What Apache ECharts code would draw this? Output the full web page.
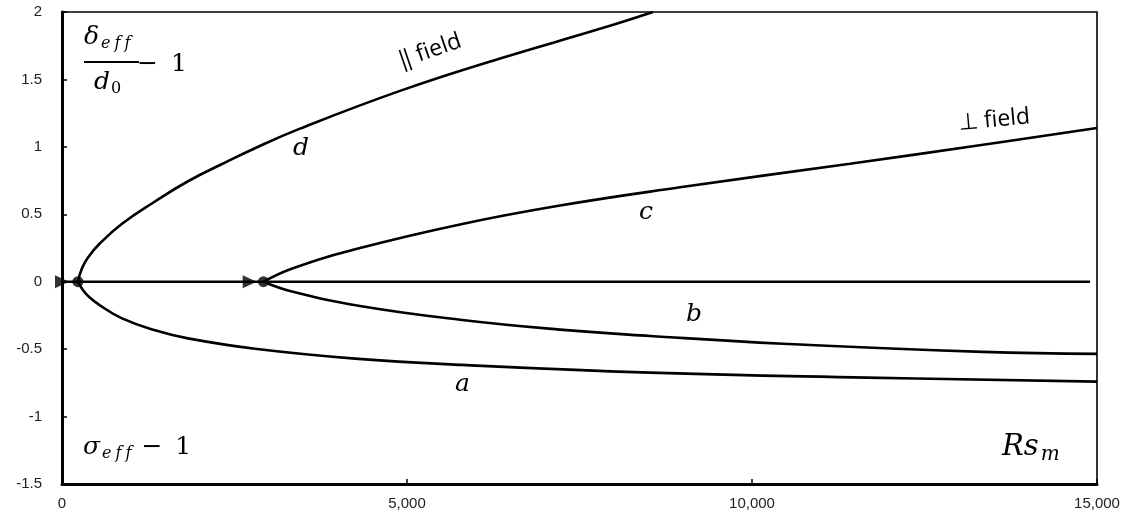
<!DOCTYPE html>
<html>
<head>
<meta charset="utf-8">
<script src="https://cdn.jsdelivr.net/npm/echarts@6/dist/echarts.min.js"></script>
<style>
  html, body { margin: 0; padding: 0; background: #fff; }
  #chart { width: 1140px; height: 522px; }
</style>
</head>
<body>
<div id="chart"></div>
<script>
// Axis ranges and ticks
const xTicks = [0, 5000, 10000, 15000];
const yTicks = [-1.5, -1, -0.5, 0, 0.5, 1, 1.5, 2];

// Branch d (parallel field, rising from the first bifurcation point)
const dX = [230, 290, 377, 550, 870, 1348, 1826, 2319, 2797, 3449, 4899, 6348, 7797, 8565];
const dY = [0, 0.1, 0.18, 0.285, 0.43, 0.595, 0.745, 0.873, 0.99, 1.135, 1.415, 1.655, 1.875, 2.0];

// Branch a (falling from the first bifurcation point)
const aX = [230, 300, 377, 550, 870, 1348, 1826, 2797, 4246, 5800, 8522, 11667, 15000];
const aY = [0, -0.06, -0.105, -0.175, -0.272, -0.36, -0.42, -0.497, -0.57, -0.617, -0.674, -0.711, -0.741];

// Branch c (perpendicular field, rising from the second bifurcation point)
const cX = [2920, 3348, 4319, 5768, 7217, 8957, 11420, 13348, 15000];
const cY = [0, 0.1, 0.25, 0.425, 0.565, 0.70, 0.875, 1.015, 1.14];

// Branch b (falling from the second bifurcation point)
const bX = [2920, 3348, 4319, 5768, 7217, 8522, 10449, 13348, 15000];
const bY = [0, -0.075, -0.18, -0.282, -0.355, -0.402, -0.46, -0.52, -0.535];

// Trivial branch along zero
const zeroX = [0, 14900];
const zeroY = [0, 0];

// Bifurcation points and flow arrows
const dotX = [230, 2920];
const dotY = [0, 0];
const arrowX = [0, 2720];
const arrowY = [0, 0];

const pairs = (xs, ys) => xs.map((x, i) => [x, ys[i]]);

const lineStyle = { color: '#000', width: 2.6 };
const curve = (name, xs, ys) => ({
  name, type: 'line', data: pairs(xs, ys), showSymbol: false,
  smooth: 0.45, lineStyle, z: 3, silent: true
});

const mathFont = '"DejaVu Serif", "Liberation Serif", serif';
const sansFont = '"Open Sans", "Noto Sans", sans-serif';
const tickFont = '"Liberation Sans", Arial, sans-serif';

// italic subscript made of separately spaced letters
const subText = (word, key) => word.split('').map(ch => `{${key}|${ch}}`).join('');

const richMath = {
  v: { fontFamily: mathFont, fontStyle: 'italic', fontSize: 25, fill: '#000' },
  s: { fontFamily: mathFont, fontStyle: 'italic', fontSize: 16, fill: '#000', padding: [12, 2, 0, 2] },
  n: { fontFamily: mathFont, fontSize: 16, fill: '#000', padding: [12, 0, 0, 1] },
  m: { fontFamily: mathFont, fontSize: 25, fill: '#000', padding: [0, 0, 0, 8] },
  o: { fontFamily: mathFont, fontSize: 25, fill: '#000', padding: [0, 0, 0, 13] }
};

const chart = echarts.init(document.getElementById('chart'), null, { renderer: 'canvas' });

chart.setOption({
  animation: false,
  grid: {
    left: 62, right: 43, top: 12, bottom: 38,
    show: true, borderColor: '#000', borderWidth: 1.6, backgroundColor: 'transparent'
  },
  xAxis: {
    type: 'value', min: 0, max: 15000, interval: 5000,
    axisLine: { show: true, onZero: false, lineStyle: { color: '#000', width: 3 } },
    axisTick: { show: true, inside: true, length: 5, lineStyle: { color: '#000', width: 1.5 } },
    splitLine: { show: false },
    axisLabel: {
      color: '#222', fontFamily: tickFont, fontSize: 15, margin: 12,
      formatter: v => xTicks.includes(v) ? v.toLocaleString('en-US') : ''
    }
  },
  yAxis: {
    type: 'value', min: -1.5, max: 2, interval: 0.5,
    axisLine: { show: true, onZero: false, lineStyle: { color: '#000', width: 3 } },
    axisTick: { show: true, inside: true, length: 5, lineStyle: { color: '#000', width: 1.5 } },
    splitLine: { show: false },
    axisLabel: {
      color: '#222', fontFamily: tickFont, fontSize: 15, margin: 20,
      formatter: v => yTicks.includes(v) ? String(v) : ''
    }
  },
  series: [
    curve('zero', zeroX, zeroY),
    curve('d', dX, dY),
    curve('a', aX, aY),
    curve('c', cX, cY),
    curve('b', bX, bY),
    {
      name: 'arrows', type: 'scatter', data: pairs(arrowX, arrowY),
      symbol: 'triangle', symbolRotate: -90, symbolSize: [13, 14],
      itemStyle: { color: '#000' }, z: 5, silent: true
    },
    {
      name: 'points', type: 'scatter', data: pairs(dotX, dotY),
      symbol: 'circle', symbolSize: 11,
      itemStyle: { color: '#000' }, z: 6, silent: true
    }
  ],
  graphic: [
    // delta_eff / d0 - 1
    { type: 'text', left: 84, top: 25, style: { text: '{v|δ}' + subText('eff', 's'), rich: richMath } },
    { type: 'rect', shape: { x: 84, y: 61, width: 55, height: 2 }, style: { fill: '#000' } },
    { type: 'text', left: 94, top: 70, style: { text: '{v|d}{n|0}', rich: richMath } },
    { type: 'text', left: 137, top: 52, style: { text: '{m|−}{o|1}', rich: richMath } },
    // sigma_eff - 1
    { type: 'text', left: 83, top: 435, style: { text: '{v|σ}' + subText('eff', 's') + '{m|−}{o|1}', rich: richMath } },
    // Rs_m
    { type: 'text', left: 1002, top: 433, style: {
      text: '{v|Rs}{s|m}', rich: {
        v: { fontFamily: mathFont, fontStyle: 'italic', fontSize: 29, fill: '#000' },
        s: { fontFamily: mathFont, fontStyle: 'italic', fontSize: 20, fill: '#000', padding: [15, 0, 0, 2] }
      } } },
    // branch labels
    { type: 'text', left: 293, top: 136, style: { text: 'd', fontFamily: mathFont, fontStyle: 'italic', fontSize: 25, fill: '#000' } },
    { type: 'text', left: 639, top: 200, style: { text: 'c', fontFamily: mathFont, fontStyle: 'italic', fontSize: 25, fill: '#000' } },
    { type: 'text', left: 686, top: 302, style: { text: 'b', fontFamily: mathFont, fontStyle: 'italic', fontSize: 25, fill: '#000' } },
    { type: 'text', left: 455, top: 372, style: { text: 'a', fontFamily: mathFont, fontStyle: 'italic', fontSize: 25, fill: '#000' } },
    // field orientation labels
    { type: 'text', x: 430, y: 51, rotation: 19 * Math.PI / 180, style: {
      text: '‖ field', fontFamily: sansFont, fontSize: 23, fill: '#000', align: 'center', verticalAlign: 'middle' } },
    { type: 'text', x: 994, y: 120, rotation: 5 * Math.PI / 180, style: {
      text: '⊥ field', fontFamily: sansFont, fontSize: 23, fill: '#000', align: 'center', verticalAlign: 'middle' } }
  ]
});
</script>
</body>
</html>
